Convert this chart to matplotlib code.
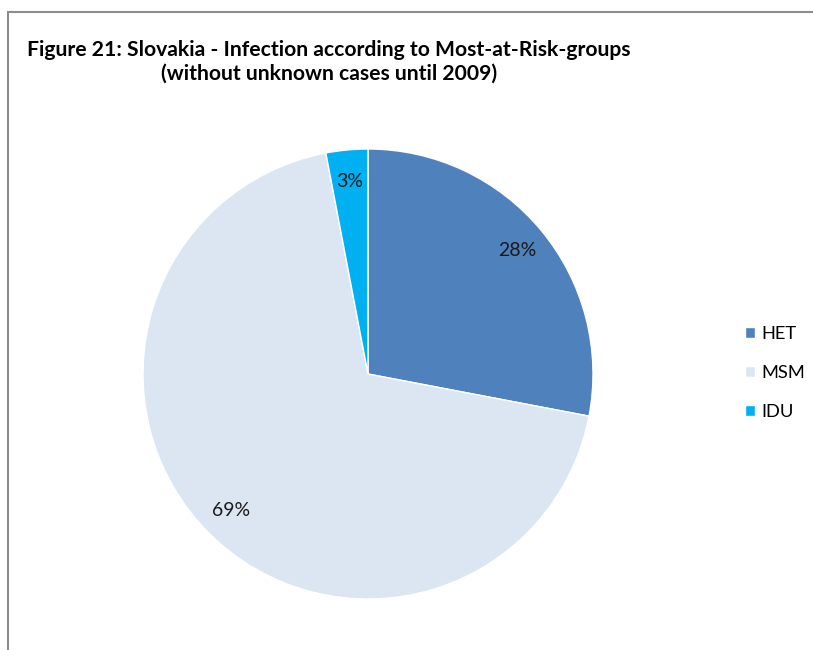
import matplotlib
matplotlib.use("Agg")
import matplotlib.pyplot as plt
from matplotlib.patches import Rectangle

# Share of infections by most-at-risk group
groups = ["HET", "MSM", "IDU"]
shares = [28, 69, 3]
colors = ["#4F81BD", "#DCE6F2", "#00B0F0"]

plt.rcParams['font.family'] = ['Lato', 'DejaVu Sans']

fig = plt.figure(figsize=(8.13, 6.5), dpi=100)

# thin grey frame around the chart area
fig.patches.append(Rectangle((8 / 813, -0.01), 1.0, 1 - 12 / 650 + 0.01,
                             transform=fig.transFigure, fill=False,
                             edgecolor="#8c8c8c", linewidth=1.5))

ax = fig.add_axes([143 / 813, 51 / 650, 450 / 813, 450 / 650])
wedges, texts, autotexts = ax.pie(
    shares, colors=colors, startangle=90, counterclock=False,
    autopct='%.0f%%', pctdistance=0.86, radius=1,
    wedgeprops=dict(edgecolor="white", linewidth=1),
    textprops=dict(fontsize=14, color="#1a1a1a"))
ax.set_xlim(-1, 1)
ax.set_ylim(-1, 1)
ax.set_aspect('equal')

fig.text(329 / 813, 1 - 62 / 650,
         "Figure 21: Slovakia - Infection according to Most-at-Risk-groups\n"
         "(without unknown cases until 2009)",
         ha='center', va='center', fontsize=15.2, fontweight='bold',
         linespacing=1.2, color="#000000")

leg = fig.legend(wedges, groups, loc='center left',
                 bbox_to_anchor=(745 / 813, 1 - 373 / 650),
                 frameon=False, fontsize=13.2, handlelength=0.55,
                 handleheight=0.55, handletextpad=0.35, labelspacing=1.25,
                 borderpad=0, borderaxespad=0)

fig.savefig("out.png", dpi=100)
